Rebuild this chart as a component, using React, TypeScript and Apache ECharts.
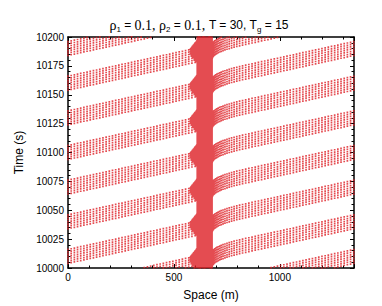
import React, { useEffect, useRef } from "react";
import * as echarts from "echarts";

// ---- values ----
const spaceMin = 0;
const spaceMax = 1350; // ring length shown on the space axis (m)
const timeMin = 10000;
const timeMax = 10200;
const xMajorInterval = 500;
const xMinorInterval = 100;
const yMajorInterval = 25;

const stopLine = 680; // signal position (m)
const freeSpeed = 25; // m/s
const acceleration = 2.0; // m/s^2
const jamSpacing = 7; // m between queued vehicles
const dischargeHeadway = 2; // s
const startWaveDelay = 0.4; // s per queued vehicle before it starts creeping
const vehiclesOnRing = 25;
const sampleStep = 0.6; // s between plotted positions

// green phase starts (T = 30, Tg = 15)
const greenStarts = [
  9850, 9880, 9910, 9940, 9970, 10000, 10030, 10060, 10090, 10120, 10150,
  10180, 10210, 10240, 10270, 10300,
];
// departure offsets within each green (s)
const dischargeOffsets = [1, 3, 5, 7, 9, 11, 13];

const red = "#dd1f25";
const sans = "Liberation Sans";
const serif = "Liberation Serif";

function clamp(v: number, a: number, b: number) {
  return Math.max(a, Math.min(b, v));
}

function buildPositions(): number[][] {
  const dep: number[] = [];
  greenStarts.forEach((g) => dischargeOffsets.forEach((o) => dep.push(g + o)));
  const tAcc = freeSpeed / acceleration;
  const dAcc = 0.5 * acceleration * tAcc * tAcc;
  const out: number[][] = [];
  const keep = (x: number, t: number) => {
    if (t >= timeMin - 0.5 && t <= timeMax + 0.5 && x >= spaceMin && x <= spaceMax) out.push([x, t]);
  };
  for (let n = vehiclesOnRing; n < dep.length; n++) {
    const tDown = tAcc + (spaceMax - stopLine - dAcc) / freeSpeed;
    const A = dep[n - vehiclesOnRing] + tDown;
    const D = dep[n];
    const queueX = (t: number) => {
      let c = 0;
      for (let m = 0; m < n; m++) {
        const lag = startWaveDelay * (n - m - 1);
        c += clamp((t - dep[m] - lag) / dischargeHeadway + 1, 0, 1);
      }
      return Math.min(stopLine, stopLine - jamSpacing * (n - c));
    };
    for (let t = A; t < D; t += sampleStep) {
      keep(Math.min(freeSpeed * (t - A), queueX(t)), t);
    }
    for (let tau = 0; tau < 200; tau += sampleStep) {
      const x =
        tau < tAcc
          ? stopLine + 0.5 * acceleration * tau * tau
          : stopLine + dAcc + freeSpeed * (tau - tAcc);
      if (x > spaceMax) break;
      keep(x, D + tau);
    }
  }
  return out;
}

export default function App() {
  const ref = useRef<HTMLDivElement>(null);
  useEffect(() => {
    if (!ref.current) return;
    const chart = echarts.init(ref.current, undefined, { renderer: "svg" });
    const positions = buildPositions();
    const axisLineStyle = { color: "#000", width: 1.5 };
    const tickStyle = { color: "#000", width: 1 };
    const labelStyle = { fontFamily: sans, fontSize: 10, color: "#000" };
    const baseX = {
      type: "value" as const,
      min: spaceMin,
      max: spaceMax,
      splitLine: { show: false },
    };
    const baseY = {
      type: "value" as const,
      min: timeMin,
      max: timeMax,
      interval: yMajorInterval,
      splitLine: { show: false },
    };
    chart.setOption({
      animation: false,
      grid: { left: 68, right: 28, top: 37, bottom: 35 },
      graphic: [
        {
          type: "text",
          x: 199,
          y: 25,
          style: {
            text:
              "{g|ρ}{sb|1}{n| = }{g|0.1, ρ}{sb|2}{n| = }{g|0.1, }{n|T = 30, T}{sb|g}{n| = 15}",
            align: "center",
            verticalAlign: "middle",
            fill: "#000",
            rich: {
              g: { fontFamily: serif, fontSize: 14, lineHeight: 16, verticalAlign: "middle", fill: "#000" },
              n: { fontFamily: sans, fontSize: 12, lineHeight: 16, verticalAlign: "middle", fill: "#000" },
              sb: { fontFamily: sans, fontSize: 8, lineHeight: 8, verticalAlign: "bottom", fill: "#000" },
            },
          },
        },
      ],
      xAxis: [
        {
          ...baseX,
          position: "bottom",
          interval: xMajorInterval,
          axisLine: { show: true, onZero: false, lineStyle: axisLineStyle },
          axisTick: { show: true, inside: true, length: 4, lineStyle: tickStyle },
          axisLabel: {
            ...labelStyle,
            margin: 4,
            formatter: (v: number) => (v % xMajorInterval === 0 ? String(v) : ""),
          },
          name: "Space (m)",
          nameLocation: "middle",
          nameGap: 21,
          nameTextStyle: { fontFamily: sans, fontSize: 12, color: "#000" },
        },
        {
          ...baseX,
          position: "bottom",
          interval: xMinorInterval,
          axisLine: { show: false, onZero: false },
          axisTick: { show: true, inside: true, length: 2.5, lineStyle: tickStyle },
          axisLabel: { show: false },
        },
        {
          ...baseX,
          position: "top",
          interval: xMajorInterval,
          axisLine: { show: true, onZero: false, lineStyle: axisLineStyle },
          axisTick: { show: true, inside: true, length: 4, lineStyle: tickStyle },
          axisLabel: { show: false },
        },
        {
          ...baseX,
          position: "top",
          interval: xMinorInterval,
          axisLine: { show: false, onZero: false },
          axisTick: { show: true, inside: true, length: 2.5, lineStyle: tickStyle },
          axisLabel: { show: false },
        },
      ],
      yAxis: [
        {
          ...baseY,
          position: "left",
          axisLine: { show: true, onZero: false, lineStyle: axisLineStyle },
          axisTick: { show: true, inside: true, length: 4, lineStyle: tickStyle },
          minorTick: { show: true, splitNumber: 5, length: 2.5, lineStyle: tickStyle },
          axisLabel: { ...labelStyle, margin: 4, formatter: (v: number) => String(v) },
          name: "Time (s)",
          nameLocation: "middle",
          nameGap: 42,
          nameTextStyle: { fontFamily: sans, fontSize: 12, color: "#000" },
        },
        {
          ...baseY,
          position: "right",
          axisLine: { show: true, onZero: false, lineStyle: axisLineStyle },
          axisTick: { show: true, inside: true, length: 4, lineStyle: tickStyle },
          minorTick: { show: true, splitNumber: 5, length: 2.5, lineStyle: tickStyle },
          axisLabel: { show: false },
        },
      ],
      series: [
        {
          type: "scatter",
          data: positions,
          xAxisIndex: 0,
          yAxisIndex: 0,
          large: true,
          largeThreshold: 500,
          symbol: "rect",
          symbolSize: 1.7,
          silent: true,
          clip: true,
          itemStyle: { color: red },
        },
      ],
    });
    return () => chart.dispose();
  }, []);
  return (
    <div
      ref={ref}
      style={{ position: "fixed", left: 0, top: 0, width: 382, height: 306, background: "#fff" }}
    />
  );
}
